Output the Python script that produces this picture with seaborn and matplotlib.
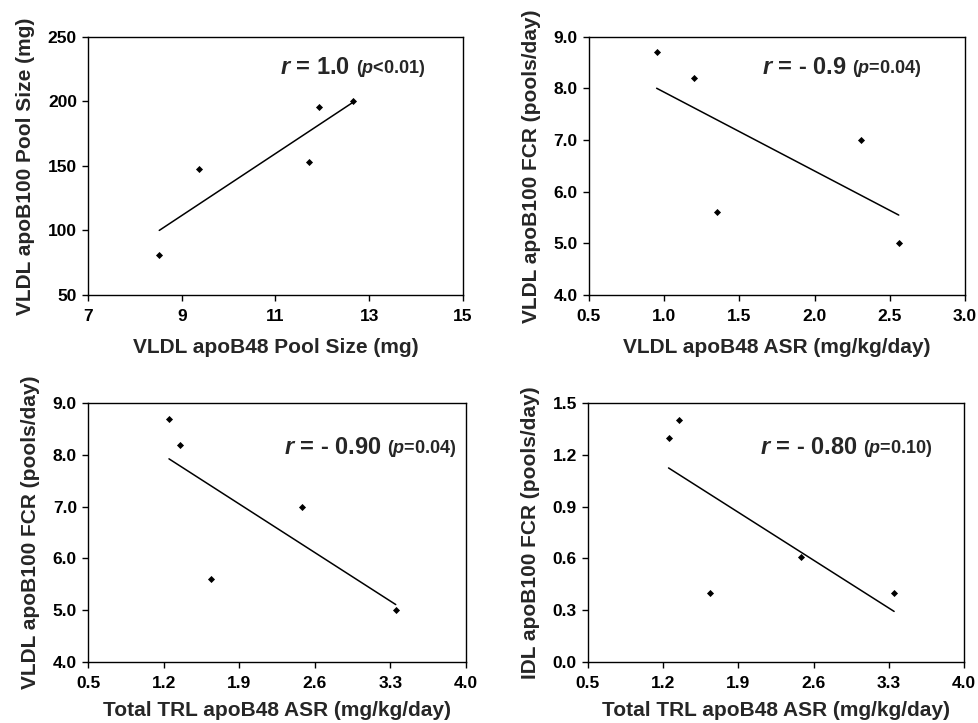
import matplotlib
matplotlib.use("Agg")
import matplotlib.pyplot as plt
import seaborn as sns
import pandas as pd

# ------------------------ DATA ------------------------
vldl_b48_pool = [8.52, 9.37, 11.71, 11.92, 12.65]
vldl_b100_pool = [81, 148, 153, 196, 200]

vldl_b48_asr = [0.95, 1.20, 1.35, 2.31, 2.56]
vldl_b100_fcr = [8.7, 8.2, 5.6, 7.0, 5.0]

trl_b48_asr = [1.25, 1.35, 1.64, 2.48, 3.35]
vldl_b100_fcr_2 = [8.7, 8.2, 5.6, 7.0, 5.0]
idl_b100_fcr = [1.30, 1.40, 0.40, 0.61, 0.40]

panels = [
    dict(x=vldl_b48_pool, y=vldl_b100_pool,
         xlabel="VLDL apoB48 Pool Size (mg)", ylabel="VLDL apoB100 Pool Size (mg)",
         xlim=(7, 15), xticks=[7, 9, 11, 13, 15], xfmt="{:.0f}",
         ylim=(50, 250), yticks=[50, 100, 150, 200, 250], yfmt="{:.0f}",
         r_text="$r$ = 1.0", p_text="($p$<0.01)"),
    dict(x=vldl_b48_asr, y=vldl_b100_fcr,
         xlabel="VLDL apoB48 ASR (mg/kg/day)", ylabel="VLDL apoB100 FCR (pools/day)",
         xlim=(0.5, 3.0), xticks=[0.5, 1.0, 1.5, 2.0, 2.5, 3.0], xfmt="{:.1f}",
         ylim=(4, 9), yticks=[4, 5, 6, 7, 8, 9], yfmt="{:.1f}",
         r_text="$r$ = - 0.9", p_text="($p$=0.04)"),
    dict(x=trl_b48_asr, y=vldl_b100_fcr_2,
         xlabel="Total TRL apoB48 ASR (mg/kg/day)", ylabel="VLDL apoB100 FCR (pools/day)",
         xlim=(0.5, 4.0), xticks=[0.5, 1.2, 1.9, 2.6, 3.3, 4.0], xfmt="{:.1f}",
         ylim=(4, 9), yticks=[4, 5, 6, 7, 8, 9], yfmt="{:.1f}",
         r_text="$r$ = - 0.90", p_text="($p$=0.04)"),
    dict(x=trl_b48_asr, y=idl_b100_fcr,
         xlabel="Total TRL apoB48 ASR (mg/kg/day)", ylabel="IDL apoB100 FCR (pools/day)",
         xlim=(0.5, 4.0), xticks=[0.5, 1.2, 1.9, 2.6, 3.3, 4.0], xfmt="{:.1f}",
         ylim=(0, 1.5), yticks=[0.0, 0.3, 0.6, 0.9, 1.2, 1.5], yfmt="{:.1f}",
         r_text="$r$ = - 0.80", p_text="($p$=0.10)"),
]

# axes boxes [left, bottom, width, height] and annotation anchor
positions = [
    [0.0899, 0.592, 0.383, 0.357],
    [0.6016, 0.592, 0.384, 0.357],
    [0.0899, 0.0844, 0.386, 0.358],
    [0.6006, 0.0844, 0.384, 0.358],
]
text_pos = [(0.513, 0.857), (0.46, 0.857), (0.519, 0.802), (0.458, 0.802)]
xlabel_pad = [10, 10, 7, 7]

# ------------------------ STYLE ------------------------
sns.set_style("ticks")
plt.rcParams['font.family'] = ['Liberation Sans', 'DejaVu Sans']
plt.rcParams['font.weight'] = 'bold'
plt.rcParams['mathtext.fontset'] = 'custom'
plt.rcParams['mathtext.it'] = 'Liberation Sans:italic:bold'
plt.rcParams['mathtext.rm'] = 'Liberation Sans:bold'

fig = plt.figure(figsize=(9.79, 7.23), dpi=100)

for i, p in enumerate(panels):
    ax = fig.add_axes(positions[i])
    df = pd.DataFrame({"x": p["x"], "y": p["y"]})
    sns.regplot(data=df, x="x", y="y", ax=ax, ci=None, marker="D",
                color="black", scatter_kws={"s": 13, "linewidths": 0, "alpha": 1},
                line_kws={"linewidth": 1.1})
    ax.set_xlim(*p["xlim"])
    ax.set_ylim(*p["ylim"])
    ax.set_xticks(p["xticks"])
    ax.set_xticklabels([p["xfmt"].format(v) for v in p["xticks"]])
    ax.set_yticks(p["yticks"])
    ax.set_yticklabels([p["yfmt"].format(v) for v in p["yticks"]])
    ax.tick_params(axis="both", direction="out", length=4, width=1,
                   labelsize=12.5, colors="black")
    ax.tick_params(axis="x", pad=6)
    ax.tick_params(axis="y", pad=4)
    for lbl in ax.get_xticklabels() + ax.get_yticklabels():
        lbl.set_fontweight("bold")
    for s in ax.spines.values():
        s.set_visible(True)
        s.set_color("black")
        s.set_linewidth(1)
    ax.set_xlabel(p["xlabel"], fontsize=15, fontweight="bold", labelpad=xlabel_pad[i])
    ax.set_ylabel(p["ylabel"], fontsize=15, fontweight="bold", labelpad=9)

    tx, ty = text_pos[i]
    t1 = ax.text(tx, ty, p["r_text"], transform=ax.transAxes, fontsize=17,
                 fontweight="bold", va="baseline", ha="left")
    ax.annotate(p["p_text"], xy=(1, 0), xycoords=t1, xytext=(4, 0),
                textcoords="offset points", fontsize=13,
                fontweight="bold", va="bottom", ha="left")

plt.savefig("out.png", dpi=100)
plt.close()
